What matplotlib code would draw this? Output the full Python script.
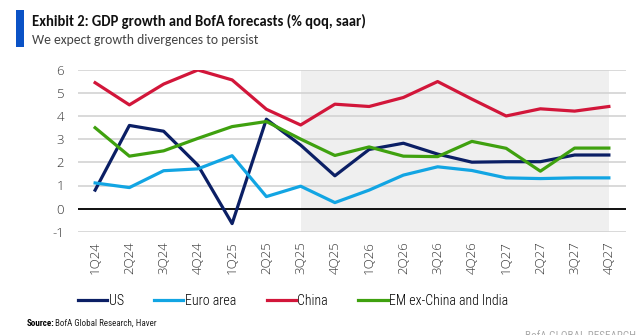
import matplotlib
matplotlib.use("Agg")
import matplotlib.pyplot as plt
from matplotlib.patches import Rectangle

quarters = ["1Q24", "2Q24", "3Q24", "4Q24", "1Q25", "2Q25", "3Q25", "4Q25",
            "1Q26", "2Q26", "3Q26", "4Q26", "1Q27", "2Q27", "3Q27", "4Q27"]

us = [0.8, 3.6, 3.35, 1.88, -0.65, 3.87, 2.75, 1.42,
      2.56, 2.83, 2.36, 2.01, 2.03, 2.03, 2.32, 2.32]
euro = [1.11, 0.91, 1.64, 1.72, 2.29, 0.52, 0.97, 0.26,
        0.8, 1.45, 1.81, 1.65, 1.33, 1.30, 1.33, 1.33]
china = [5.45, 4.49, 5.39, 6.0, 5.57, 4.3, 3.62, 4.52,
         4.42, 4.81, 5.5, 4.74, 4.01, 4.32, 4.22, 4.42]
em = [3.5, 2.27, 2.5, 3.04, 3.55, 3.77, 3.01, 2.3,
      2.67, 2.27, 2.25, 2.91, 2.61, 1.62, 2.62, 2.62]

forecast_start = "3Q25"

series = [
    ("US", us, "#0B1F65"),
    ("Euro area", euro, "#12A5E3"),
    ("China", china, "#D2163A"),
    ("EM ex-China and India", em, "#3FA10F"),
]

COND = ["Roboto Condensed", "DejaVu Sans"]
HEAD = ["Carlito", "Open Sans", "DejaVu Sans"]
plt.rcParams["font.family"] = ["Open Sans", "DejaVu Sans"]
plt.rcParams["axes.unicode_minus"] = False

fig = plt.figure(figsize=(6.36, 3.35), dpi=100)
ax = fig.add_axes([78 / 636, 1 - 231.7 / 335, (626 - 78) / 636, (231.7 - 70) / 335])

x = list(range(len(quarters)))
x0 = quarters.index(forecast_start)
ax.axvspan(x0, len(quarters) - 1, color="#EFEFEF", zorder=0, lw=0)

for name, vals, col in series:
    ax.plot(x, vals, color=col, lw=2.3, label=name, zorder=3)

ax.axhline(0, color="black", lw=1.3, zorder=2)
ax.set_xlim(-0.5, len(quarters) - 0.5)
ax.set_ylim(-1, 6)
ax.set_yticks(range(-1, 7))
ax.yaxis.grid(True, color="#D3D3D3", lw=1.2, zorder=1)
ax.set_axisbelow(True)
for s in ax.spines.values():
    s.set_visible(False)
ax.tick_params(length=0, colors="#333333", labelsize=9.5)
ax.tick_params(axis="y", pad=10)
ax.set_xticks(x)
ax.set_xticklabels(quarters, rotation=90)
ax.tick_params(axis="x", pad=7)
for lab in ax.get_xticklabels() + ax.get_yticklabels():
    lab.set_fontweight("light")

# header
fig.add_artist(Rectangle((16 / 636, 1 - 47 / 335), 8 / 636, 37 / 335,
                         transform=fig.transFigure, color="#0A52C6", lw=0))
fig.text(32 / 636, 1 - 21 / 335, "Exhibit 2: GDP growth and BofA forecasts (% qoq, saar)",
         fontsize=10.5, fontweight="bold", va="center", family=HEAD, color="#111111")
fig.text(32 / 636, 1 - 40 / 335, "We expect growth divergences to persist",
         fontsize=9.8, va="center", family=HEAD, color="#444444")

fig.legend(loc="center left", bbox_to_anchor=(78 / 636, 1 - 301 / 335), ncol=4,
           frameon=False, borderpad=0, borderaxespad=0,
           handlelength=2.1, handletextpad=0.1, columnspacing=2.2,
           prop={"family": COND, "size": 10, "weight": "light"})

fig.text(27 / 636, 1 - 323 / 335, "Source:", fontsize=6.5, fontweight="bold",
         va="center", family=COND)
fig.text(55 / 636, 1 - 323 / 335, "BofA Global Research, Haver", fontsize=6.5,
         va="center", family=COND, color="#222222")
fig.text(1.0, 1 - 336 / 335, "BofA GLOBAL RESEARCH", fontsize=8,
         va="center", ha="right", family=COND, color="#AAAAAA")

fig.savefig("out.png", dpi=100)
